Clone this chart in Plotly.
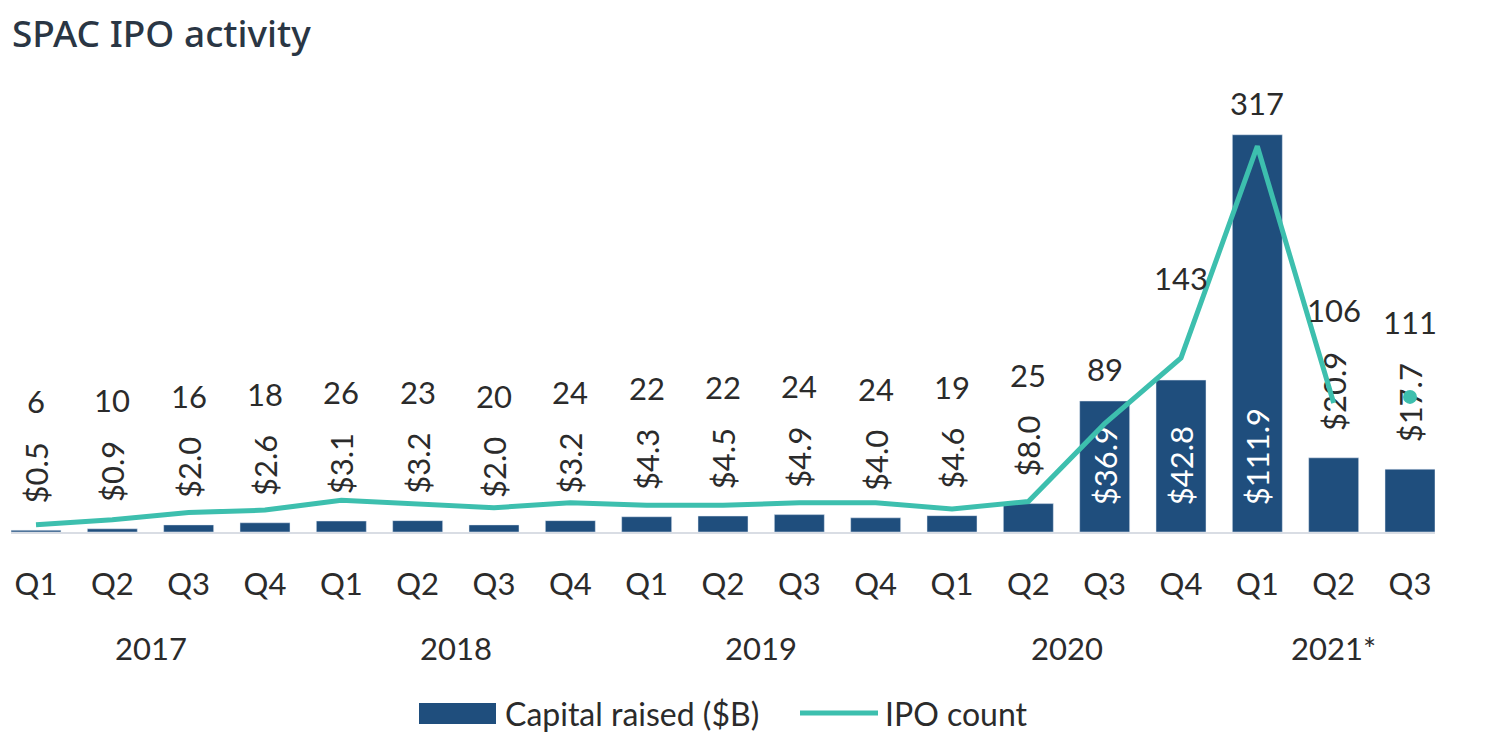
import plotly.graph_objects as go

# ---- data ----
quarters = ["Q1", "Q2", "Q3", "Q4", "Q1", "Q2", "Q3", "Q4", "Q1", "Q2", "Q3", "Q4",
            "Q1", "Q2", "Q3", "Q4", "Q1", "Q2", "Q3"]
years = ["2017"] * 4 + ["2018"] * 4 + ["2019"] * 4 + ["2020"] * 4 + ["2021*"] * 3
capital = [0.5, 0.9, 2.0, 2.6, 3.1, 3.2, 2.0, 3.2, 4.3, 4.5, 4.9, 4.0, 4.6, 8.0,
           36.9, 42.8, 111.9, 20.9, 17.7]
ipo_count = [6, 10, 16, 18, 26, 23, 20, 24, 22, 22, 24, 24, 19, 25, 89, 143, 317, 106, 111]

# ---- style / layout constants ----
OFF = 8  # page body margin
W, H = 1486 - OFF, 751 - OFF
ML, MR, MT, MB = 3, 51, 82, 219
PW, PH = W - ML - MR, H - MT - MB
BAR_MAX = PH / 3.55
LINE_MAX = PH / 1.217
BAR_COLOR = "#1f4e7d"
LINE_COLOR = "#3dbfae"
TEXT = "#2b2b2b"
FONT = "Lato"
FS = 31
NB = "\u00a0\u00a0\u00a0"

x = list(range(len(quarters)))
kb = PH / BAR_MAX
kl = PH / LINE_MAX

bar_text = []
bar_pos = []
annotations = []
for i, (c, n) in enumerate(zip(capital, ipo_count)):
    lbl = "$" + f"{c:.1f}"
    bar_text.append(NB + lbl)
    bar_px = c * kb
    line_px = n * kl
    label_len = 18.5 * len(lbl)
    if bar_px >= label_len + 25:
        bar_pos.append("inside")
        off = bar_px + 32
        if line_px > bar_px:
            off = line_px + 80
    else:
        bar_pos.append("outside")
        off = bar_px + 55 + label_len
    annotations.append(dict(
        x=i, y=0, xref="x", yref="y", yshift=off, text=str(n), showarrow=False,
        yanchor="middle", font=dict(family=FONT, size=FS, color=TEXT)))

fig = go.Figure()
fig.add_trace(go.Bar(
    x=x, y=capital, name="Capital raised ($B)", marker_color=BAR_COLOR,
    text=bar_text, textposition=bar_pos, textangle=-90, insidetextanchor="start",
    insidetextfont=dict(color="white", family=FONT, size=FS),
    outsidetextfont=dict(color=TEXT, family=FONT, size=FS),
    constraintext="none", cliponaxis=False, showlegend=False,
    hoverinfo="skip",
))
n_line = len(ipo_count) - 1
fig.add_trace(go.Scatter(
    x=x[:n_line], y=ipo_count[:n_line], yaxis="y2", mode="lines", name="IPO count",
    line=dict(color=LINE_COLOR, width=5), showlegend=False, cliponaxis=False,
))
fig.add_trace(go.Scatter(
    x=x[n_line:], y=ipo_count[n_line:], yaxis="y2", mode="markers", name="IPO count",
    marker=dict(color=LINE_COLOR, size=14), showlegend=False, cliponaxis=False,
))

# year labels
seen = []
for yv in years:
    if yv not in seen:
        seen.append(yv)
for yv in seen:
    idx = [i for i, v in enumerate(years) if v == yv]
    annotations.append(dict(
        x=sum(idx) / len(idx), y=0, xref="x", yref="paper", yshift=-116,
        text=yv, showarrow=False, yanchor="middle",
        font=dict(family=FONT, size=FS, color=TEXT)))


def px_x(p):
    return (p - OFF - ML) / PW


def px_y(p):
    return (MT + PH - (p - OFF)) / PH


shapes = [
    dict(type="rect", xref="paper", yref="paper", x0=px_x(419), x1=px_x(496),
         y0=px_y(724), y1=px_y(703), fillcolor=BAR_COLOR, line=dict(width=0)),
    dict(type="line", xref="paper", yref="paper", x0=px_x(800), x1=px_x(878),
         y0=px_y(713), y1=px_y(713), line=dict(color=LINE_COLOR, width=5)),
]
annotations.append(dict(x=px_x(503), y=px_y(713), xref="paper", yref="paper",
                        text="Capital raised ($B)", showarrow=False, xanchor="left",
                        yanchor="middle", font=dict(family=FONT, size=32, color=TEXT)))
annotations.append(dict(x=px_x(883), y=px_y(713), xref="paper", yref="paper",
                        text="IPO count", showarrow=False, xanchor="left",
                        yanchor="middle", font=dict(family=FONT, size=32, color=TEXT)))

fig.update_layout(
    width=W, height=H, margin=dict(l=ML, r=MR, t=MT, b=MB),
    paper_bgcolor="white", plot_bgcolor="white",
    bargap=0.345,
    title=dict(text="SPAC IPO activity", x=(12 - OFF) / W, xanchor="left", xref="container",
               y=1 - (34 - OFF) / H, yanchor="middle", yref="container",
               font=dict(family="Noto Sans", size=37, color="#2a3644", weight=500)),
    xaxis=dict(tickvals=x, ticktext=quarters, range=[-0.3275, len(x) - 1 + 0.3275],
               showgrid=False, zeroline=False, showline=True, linecolor="#d9dde4",
               linewidth=2, ticks="outside", ticklen=24, tickcolor="rgba(0,0,0,0)",
               tickfont=dict(family=FONT, size=FS, color=TEXT)),
    yaxis=dict(range=[0, BAR_MAX], visible=False, showgrid=False, zeroline=False),
    yaxis2=dict(range=[0, LINE_MAX], overlaying="y", visible=False, showgrid=False,
                zeroline=False),
    annotations=annotations, shapes=shapes, showlegend=False,
)

fig.write_html("out.html")
